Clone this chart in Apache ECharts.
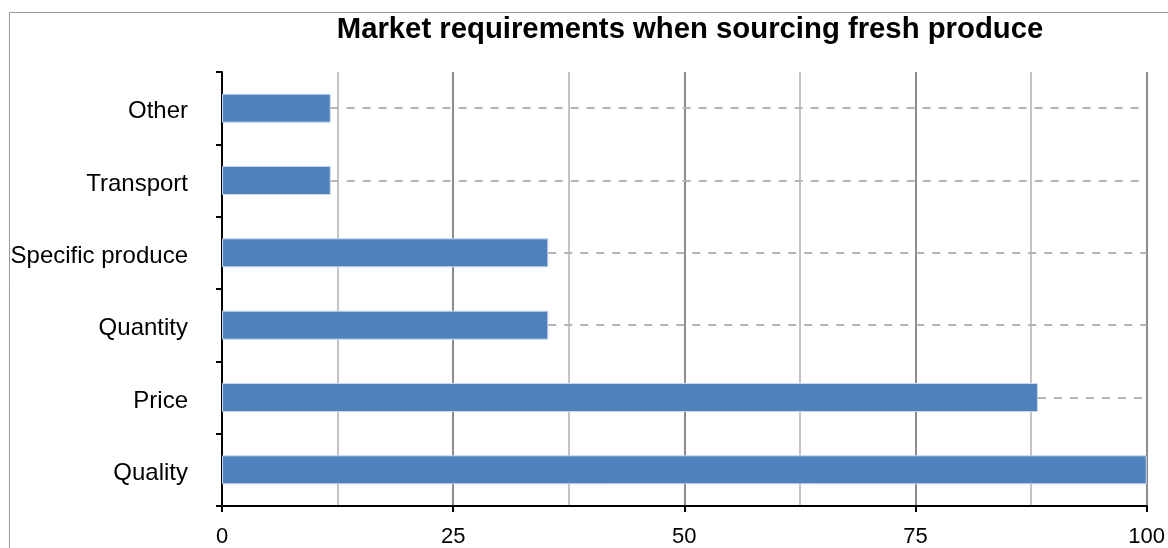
<!DOCTYPE html>
<html>
<head>
<meta charset="utf-8">
<script src="https://cdn.jsdelivr.net/npm/echarts@6/dist/echarts.min.js"></script>
<style>
  html, body { margin: 0; padding: 0; background: #fff; }
  #chart { width: 1168px; height: 548px; }
</style>
</head>
<body>
<div id="chart"></div>
<script>
// Share of respondents (%) naming each requirement
const categories = ['Quality', 'Price', 'Quantity', 'Specific produce', 'Transport', 'Other'];
const shares = [100, 88.24, 35.29, 35.29, 11.76, 11.76];
const xTicks = [0, 25, 50, 75, 100];

const FONT = '"Liberation Sans", Arial, Helvetica, sans-serif';
const X_MAX = xTicks[xTicks.length - 1];

const chart = echarts.init(document.getElementById('chart'), null, { renderer: 'canvas' });

chart.setOption({
  backgroundColor: '#fff',
  animation: false,
  title: {
    text: 'Market requirements when sourcing fresh produce',
    left: 685,
    top: 10,
    textAlign: 'center',
    textStyle: { fontFamily: FONT, fontSize: 29.3, fontWeight: 'bold', color: '#000' }
  },
  graphic: [{
    type: 'rect',
    shape: { x: 9.5, y: 12.5, width: 1300, height: 700 },
    style: { fill: 'none', stroke: '#9a9a9a', lineWidth: 1 },
    silent: true,
    z: -10
  }],
  grid: { left: 222, right: 21, top: 72, bottom: 40, containLabel: false },
  xAxis: {
    type: 'value',
    min: xTicks[0],
    max: X_MAX,
    interval: 25,
    axisLine: { show: true, lineStyle: { color: '#000', width: 2 } },
    axisTick: { show: true, length: 6, lineStyle: { color: '#000', width: 2 } },
    axisLabel: { fontFamily: FONT, fontSize: 22, color: '#000', margin: 20 },
    splitLine: { show: true, lineStyle: { color: '#8c8c8c', width: 2 } },
    minorTick: { show: false, splitNumber: 2 },
    minorSplitLine: { show: true, lineStyle: { color: '#c4c4c4', width: 2 } }
  },
  yAxis: {
    type: 'category',
    data: categories,
    axisLine: { show: true, onZero: false, lineStyle: { color: '#000', width: 2 } },
    axisTick: { show: true, length: 6, lineStyle: { color: '#000', width: 2 } },
    axisLabel: {
      fontFamily: FONT, fontSize: 24, color: '#000', margin: 34,
      formatter: (v) => '{c|' + v + '}',
      rich: { c: { fontFamily: FONT, fontSize: 24, color: '#000', padding: [7, 0, 0, 0] } }
    },
    splitLine: { show: false }
  },
  series: [{
    type: 'bar',
    data: shares,
    barWidth: 29,
    itemStyle: { color: '#4f81bd', borderColor: '#c9d8ec', borderWidth: 1 },
    z: 3,
    // dashed leader from each bar end out to the right edge of the plot
    markLine: {
      silent: true,
      symbol: 'none',
      label: { show: false },
      lineStyle: { color: '#b4b4b4', type: [8, 8], width: 2 },
      data: categories.map((c, i) => [
        { coord: [shares[i], c] },
        { coord: [X_MAX, c] }
      ])
    }
  }]
});
</script>
</body>
</html>
